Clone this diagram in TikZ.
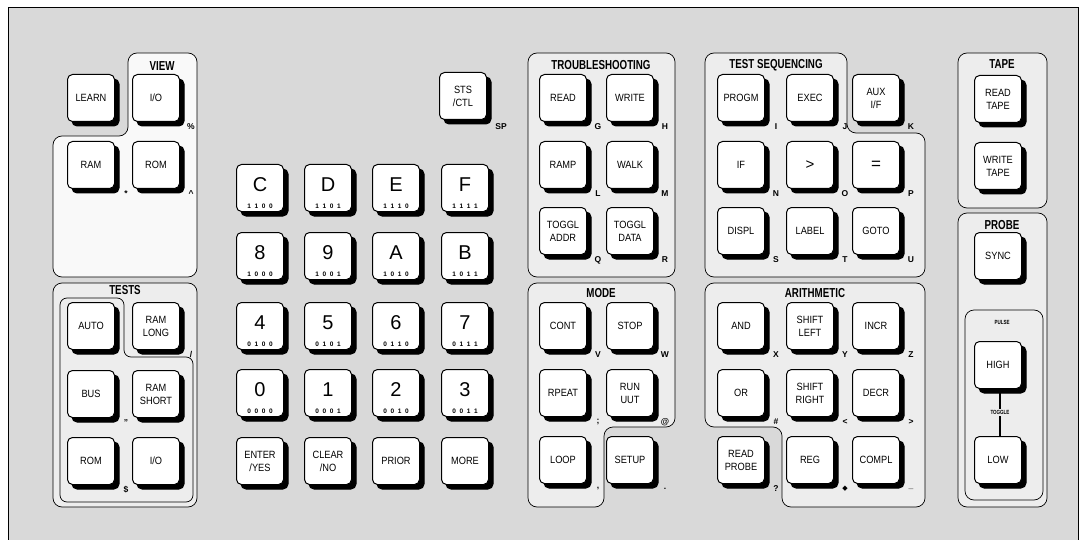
\documentclass[tikz,border=0pt]{standalone}
\usepackage{fontspec}
\setmainfont{Liberation Sans}
\newfontfamily\keyfont{Liberation Sans}[FakeStretch=0.88]
\newfontfamily\titlefont{Liberation Sans}[FakeStretch=0.75]
\newfontfamily\symfont{DejaVu Sans}
\newcommand{\bincode}[4]{#1\hspace{3.6pt}#2\hspace{3.6pt}#3\hspace{3.6pt}#4}
\tikzset{
  keybox/.style={draw=black, line width=1pt, fill=white, rounded corners=5pt,
    minimum width=47pt, minimum height=47pt, inner sep=0pt, align=center,
    font=\keyfont\fontsize{10.5}{13}\selectfont,
    preaction={draw=black, line width=1pt, fill=black, transform canvas={xshift=4.5pt, yshift=-4.5pt}}},
  grp/.style={draw=black, line width=0.7pt, fill=gray!14, rounded corners=9pt},
  grptitle/.style={font=\titlefont\bfseries\fontsize{13}{13}\selectfont, inner sep=0pt},
  alt/.style={font=\bfseries\fontsize{8.5}{8.5}\selectfont, inner sep=0pt},
  hexdigit/.style={font=\fontsize{20}{20}\selectfont, inner sep=0pt},
  bindigit/.style={font=\bfseries\fontsize{6.5}{6.5}\selectfont, inner sep=0pt},
  tiny/.style={font=\titlefont\bfseries\fontsize{6}{6}\selectfont, inner sep=1pt},
}
\newcommand{\altlab}[2]{\node[alt] at ([shift={(11,5)}]#1.south east) {#2};}
\newcommand{\hexk}[5]{%
  \node[keybox] (#1) at (#2,#3) {};
  \node[hexdigit] at ([shift={(0,-3)}]#1.center) {#4};
  \node[bindigit] at ([shift={(0,-6)}]#1.south) {#5};}
\begin{document}
\begin{tikzpicture}[x=1pt,y=-1pt]
\useasboundingbox (0,0) rectangle (1086,540);
\clip (0,0) rectangle (1086,540);
% frame and background
\draw[line width=1pt, fill=gray!30] (8,8) rectangle (1078,560);

% ---- groups ----
\draw[grp, fill=gray!5] (128,53) -- (197,53) -- (197,277) -- (53,277) -- (53,136) -- (128,136) -- cycle;
\draw[grp] (53,283) rectangle (197,507);
\draw[line width=0.7pt, rounded corners=7pt] (60,298) -- (124,298) -- (124,357) -- (193,357) -- (193,502) -- (60,502) -- cycle;
\draw[grp] (528,53) rectangle (675,277);
\draw[grp] (528,283) -- (675,283) -- (675,427) -- (604,427) -- (604,507) -- (528,507) -- cycle;
\draw[grp] (705,53) -- (847,53) -- (847,133) -- (925,133) -- (925,277) -- (705,277) -- cycle;
\draw[grp] (705,283) -- (925,283) -- (925,507) -- (782,507) -- (782,427) -- (705,427) -- cycle;
\draw[grp] (958,53) rectangle (1047,208);
\draw[grp] (958,213) rectangle (1047,507);
\draw[grp] (965,310) rectangle (1043,500);

% ---- titles ----
\node[grptitle] at (162,66) {VIEW};
\node[grptitle] at (125,290) {TESTS};
\node[grptitle] at (601,65) {TROUBLESHOOTING};
\node[grptitle] at (601,293) {MODE};
\node[grptitle] at (776,65) {TEST SEQUENCING};
\node[grptitle] at (815,293) {ARITHMETIC};
\node[grptitle] at (1002,64) {TAPE};
\node[grptitle] at (1002,225) {PROBE};
\node[tiny] at (1002,322) {PULSE};

% ---- left section ----
\node[keybox] (learn) at (91,98) {LEARN};
\node[keybox] (vio) at (156,98) {I/O};   \altlab{vio}{\%}
\node[keybox] (vram) at (91,165) {RAM};  \altlab{vram}{*}
\node[keybox] (vrom) at (156,165) {ROM}; \altlab{vrom}{\textasciicircum}
\node[keybox] (tauto) at (91,326) {AUTO};
\node[keybox] (tlong) at (156,326) {RAM\\LONG}; \altlab{tlong}{/}
\node[keybox] (tbus) at (91,394) {BUS};  \altlab{tbus}{"}
\node[keybox] (tshort) at (156,394) {RAM\\SHORT};
\node[keybox] (trom) at (91,461) {ROM};  \altlab{trom}{\$}
\node[keybox] (tio) at (156,461) {I/O};

% ---- hex keypad ----
\hexk{kC}{260}{188}{C}{\bincode1100}
\hexk{kD}{328}{188}{D}{\bincode1101}
\hexk{kE}{396}{188}{E}{\bincode1110}
\hexk{kF}{465}{188}{F}{\bincode1111}
\hexk{k8}{260}{256}{8}{\bincode1000}
\hexk{k9}{328}{256}{9}{\bincode1001}
\hexk{kA}{396}{256}{A}{\bincode1010}
\hexk{kB}{465}{256}{B}{\bincode1011}
\hexk{k4}{260}{326}{4}{\bincode0100}
\hexk{k5}{328}{326}{5}{\bincode0101}
\hexk{k6}{396}{326}{6}{\bincode0110}
\hexk{k7}{465}{326}{7}{\bincode0111}
\hexk{k0}{260}{393}{0}{\bincode0000}
\hexk{k1}{328}{393}{1}{\bincode0001}
\hexk{k2}{396}{393}{2}{\bincode0010}
\hexk{k3}{465}{393}{3}{\bincode0011}
\node[keybox] (enter) at (260,461) {ENTER\\/YES};
\node[keybox] (clear) at (328,461) {CLEAR\\/NO};
\node[keybox] (prior) at (396,461) {PRIOR};
\node[keybox] (more) at (465,461) {MORE};

\node[keybox] (sts) at (463,96) {STS\\/CTL};
\node[alt] at ([shift={(14,7)}]sts.south east) {SP};

% ---- troubleshooting ----
\node[keybox] (read) at (563,98) {READ};   \altlab{read}{G}
\node[keybox] (write) at (630,98) {WRITE}; \altlab{write}{H}
\node[keybox] (ramp) at (563,165) {RAMP};  \altlab{ramp}{L}
\node[keybox] (walk) at (630,165) {WALK};  \altlab{walk}{M}
\node[keybox] (tadr) at (563,231) {TOGGL\\ADDR}; \altlab{tadr}{Q}
\node[keybox] (tdat) at (630,231) {TOGGL\\DATA}; \altlab{tdat}{R}

% ---- mode ----
\node[keybox] (cont) at (563,326) {CONT};  \altlab{cont}{V}
\node[keybox] (stop) at (630,326) {STOP};  \altlab{stop}{W}
\node[keybox] (rpeat) at (563,393) {RPEAT}; \altlab{rpeat}{;}
\node[keybox] (runuut) at (630,393) {RUN\\UUT}; \altlab{runuut}{@}
\node[keybox] (loop) at (563,460) {LOOP};  \altlab{loop}{,}
\node[keybox] (setup) at (630,460) {SETUP}; \altlab{setup}{.}

% ---- test sequencing ----
\node[keybox] (progm) at (741,98) {PROGM}; \altlab{progm}{I}
\node[keybox] (exec) at (810,98) {EXEC};   \altlab{exec}{J}
\node[keybox] (aux) at (876,98) {AUX\\I/F}; \altlab{aux}{K}
\node[keybox] (if) at (741,165) {IF};      \altlab{if}{N}
\node[keybox, font=\fontsize{15}{15}\selectfont] (gt) at (810,165) {>}; \altlab{gt}{O}
\node[keybox, font=\fontsize{17}{17}\selectfont] (eq) at (876,165) {=}; \altlab{eq}{P}
\node[keybox] (displ) at (741,231) {DISPL}; \altlab{displ}{S}
\node[keybox] (label) at (810,231) {LABEL}; \altlab{label}{T}
\node[keybox] (goto) at (876,231) {GOTO};   \altlab{goto}{U}

% ---- arithmetic ----
\node[keybox] (and) at (741,326) {AND};    \altlab{and}{X}
\node[keybox] (shl) at (810,326) {SHIFT\\LEFT}; \altlab{shl}{Y}
\node[keybox] (incr) at (876,326) {INCR};  \altlab{incr}{Z}
\node[keybox] (or) at (741,393) {OR};      \altlab{or}{\#}
\node[keybox] (shr) at (810,393) {SHIFT\\RIGHT}; \altlab{shr}{<}
\node[keybox] (decr) at (876,393) {DECR};  \altlab{decr}{>}
\node[keybox] (rprobe) at (741,460) {READ\\PROBE}; \altlab{rprobe}{?}
\node[keybox] (reg) at (810,460) {REG};    \altlab{reg}{\symfont\fontsize{7}{7}\selectfont ◆}
\node[keybox] (compl) at (876,460) {COMPL}; \altlab{compl}{\_}

% ---- tape / probe ----
\node[keybox] (rtape) at (998,99) {READ\\TAPE};
\node[keybox] (wtape) at (998,166) {WRITE\\TAPE};
\node[keybox] (sync) at (998,256) {SYNC};
\node[keybox] (high) at (998,365) {HIGH};
\node[keybox] (low) at (998,460) {LOW};
\draw[line width=2.5pt] ([xshift=2pt]high.south) -- ([xshift=2pt]low.north)
  node[midway, tiny, fill=gray!14] {TOGGLE};
\end{tikzpicture}
\end{document}
